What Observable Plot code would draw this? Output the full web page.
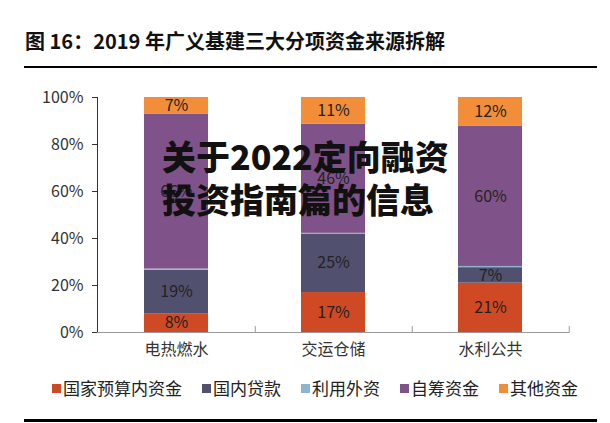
<!DOCTYPE html>
<html>
<head>
<meta charset="utf-8">
<script src="https://cdn.jsdelivr.net/npm/d3@7"></script>
<script src="https://cdn.jsdelivr.net/npm/@observablehq/plot@0.6"></script>
<style>
  html, body { margin: 0; padding: 0; background: #fff; }
  body { width: 610px; height: 423px; position: relative; overflow: hidden;
         font-family: "Noto Sans CJK SC", "Noto Sans", sans-serif; }
  #title { position: absolute; left: 25px; top: 26px; font-size: 20px; font-weight: 700; color: #111; white-space: nowrap; }
  .rule { position: absolute; left: 24px; width: 573px; background: #000; }
  #chart { position: absolute; left: 0; top: 80px; }
  #legend { position: absolute; left: 52px; top: 376px; display: flex; gap: 20px; font-size: 17px; line-height: 24px; color: #222; white-space: nowrap; }
  #legend .item { display: flex; align-items: center; }
  #legend .sw { width: 9px; height: 9px; margin-right: 2px; }
  #wm { position: absolute; left: 162px; top: 134px; font-size: 34px; font-weight: 900; line-height: 43px; color: #111; white-space: nowrap; }
</style>
</head>
<body>
<div id="title">图 16：2019 年广义基建三大分项资金来源拆解</div>
<div class="rule" style="top:66px;height:2px"></div>
<div id="chart"></div>
<div id="legend"></div>
<div class="rule" style="top:419px;height:3px"></div>
<div id="wm">关于2022定向融资<br>投资指南篇的信息</div>
<script>
const categories = ["电热燃水", "交运仓储", "水利公共"];
const seriesNames = ["国家预算内资金", "国内贷款", "利用外资", "自筹资金", "其他资金"];
const seriesColors = ["#cf4a24", "#52506f", "#8cb5cf", "#80528a", "#f28e3a"];
const budgetFunds = [8, 17, 21];
const domesticLoans = [18.5, 24.9, 6.6];
const foreignCapital = [0.5, 0.3, 0.5];
const selfRaised = [66, 46.4, 59.6];
const otherFunds = [7, 11.4, 12.3];
const yTicks = [0, 20, 40, 60, 80, 100];
const labelledSeries = ["国家预算内资金", "国内贷款", "自筹资金", "其他资金"];

const seriesValues = [budgetFunds, domesticLoans, foreignCapital, selfRaised, otherFunds];
const data = [];
seriesNames.forEach((s, i) => {
  categories.forEach((c, j) => data.push({category: c, series: s, value: seriesValues[i][j]}));
});

const chart = Plot.plot({
  width: 610,
  height: 290,
  marginLeft: 97,
  marginRight: 40.5,
  marginTop: 17,
  marginBottom: 38,
  style: {fontFamily: "'Noto Sans CJK SC', sans-serif", fontSize: "16px", color: "#333", background: "#fff"},
  x: {domain: categories, label: null, paddingInner: 0.59, paddingOuter: 0.295, tickSize: 0, tickPadding: 11},
  y: {domain: [0, 100], ticks: yTicks, tickFormat: d => d + "%", label: null, tickSize: 5, tickPadding: 9, line: true},
  color: {domain: seriesNames, range: seriesColors},
  marks: [
    Plot.barY(data, {x: "category", y: "value", fill: "series", z: "series", order: seriesNames}),
    Plot.text(data, Plot.stackY({x: "category", y: "value", z: "series", order: seriesNames,
      text: d => labelledSeries.includes(d.series) ? Math.round(d.value) + "%" : "",
      fill: "#222", fontSize: 16})),
    Plot.ruleY([0], {stroke: "#999"}),
    Plot.ruleX(categories, {x: d => d, dx: 78.75, y1: 0, y2: 2.5, stroke: "#999"})
  ]
});
document.getElementById("chart").appendChild(chart);

const legend = document.getElementById("legend");
seriesNames.forEach((s, i) => {
  const item = document.createElement("div");
  item.className = "item";
  const sw = document.createElement("span");
  sw.className = "sw";
  sw.style.background = seriesColors[i];
  const t = document.createElement("span");
  t.textContent = s;
  item.appendChild(sw);
  item.appendChild(t);
  legend.appendChild(item);
});
</script>
</body>
</html>
